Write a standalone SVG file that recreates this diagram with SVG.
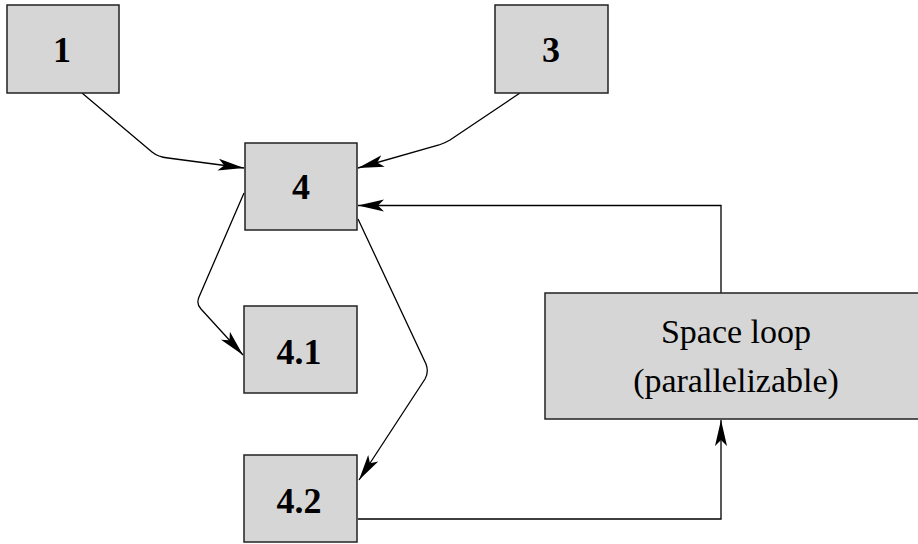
<svg xmlns="http://www.w3.org/2000/svg" width="918" height="544" viewBox="0 0 918 544">
<style>
.box{fill:#d6d6d6;stroke:#222;stroke-width:1.5}
.num{font-family:'Liberation Serif','Times New Roman','DejaVu Serif',serif;font-weight:bold;font-size:36px;text-anchor:middle;fill:#000}
.lbl{font-family:'Liberation Serif','Times New Roman','DejaVu Serif',serif;font-size:34px;text-anchor:middle;fill:#000}
.edge{fill:none;stroke:#000;stroke-width:1.3;marker-end:url(#ah)}
</style>
<defs>
<marker id="ah" markerUnits="userSpaceOnUse" markerWidth="30" markerHeight="16" viewBox="-26 -8 30 16" refX="0" refY="0" orient="auto">
<path d="M0,0 L-26,-6 L-20,0 L-26,6 Z" fill="#000"/>
</marker>
</defs>
<rect width="918" height="544" fill="#fff"/>
<g id="connectors">
<path class="edge" d="M82,93 L152,152 Q158,157 168,158 L244,168"/>
<path class="edge" d="M520,93 L450,140 Q445,143 439,145 L358,168"/>
<path class="edge" d="M721,293 L721,205.5 L358,205.5"/>
<path class="edge" d="M244,193 L199,297 Q196,304 201,309 L243,355"/>
<path class="edge" d="M358,219 L426,364 Q429,372 425,379 L359,480"/>
<path class="edge" d="M358,519 L721,519 L721,420"/>
</g>
<g id="n1"><rect class="box" x="7" y="5" width="112" height="88"/><text class="num" x="62" y="62">1</text></g>
<g id="n3"><rect class="box" x="495" y="5" width="113" height="88"/><text class="num" x="551" y="62">3</text></g>
<g id="n4"><rect class="box" x="245" y="143" width="112" height="87"/><text class="num" x="301" y="199">4</text></g>
<g id="n41"><rect class="box" x="244" y="306" width="113" height="87"/><text class="num" x="299" y="364">4.1</text></g>
<g id="n42"><rect class="box" x="244" y="455" width="113" height="87"/><text class="num" x="299" y="513">4.2</text></g>
<g id="space"><rect class="box" x="545" y="293" width="380" height="126"/><text class="lbl" x="736" y="343">Space loop</text><text class="lbl" x="736" y="392">(parallelizable)</text></g>
</svg>
